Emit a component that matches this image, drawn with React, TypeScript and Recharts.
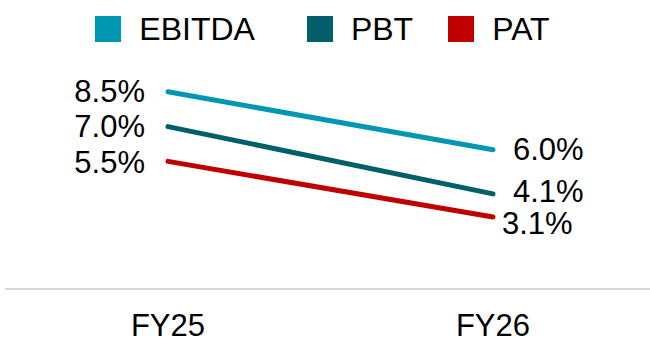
import { LineChart, Line, XAxis, YAxis, Legend, LabelList } from "recharts"

const categories = ["FY25", "FY26"]
const ebitda = [8.5, 6.0]
const pbt = [7.0, 4.1]
const pat = [5.5, 3.1]

const seriesNames = ["EBITDA", "PBT", "PAT"]
const colors = ["#0097B2", "#005F6B", "#C00000"]

const data = categories.map((c, i) => ({
  year: c,
  EBITDA: ebitda[i],
  PBT: pbt[i],
  PAT: pat[i]
}))

const FONT = "'Liberation Sans', Arial, sans-serif"

function makeLabel(key: string) {
  return (props: any) => {
    const { x, y, value, index } = props
    const left = index === 0
    let dx = left ? -23 : 20
    let dy = 0
    if (key === "PBT" && !left) dy = -2
    if (key === "PAT") dy = left ? 1 : 6
    if (key === "PAT" && !left) dx = 9
    return (
      <text
        x={x + dx}
        y={y + dy}
        textAnchor={left ? "end" : "start"}
        dominantBaseline="central"
        fontSize={31}
        fontFamily={FONT}
        fill="#000"
      >
        {value.toFixed(1)}%
      </text>
    )
  }
}

function LegendContent() {
  const gaps = [52, 35, 0]
  return (
    <div style={{ display: "flex", justifyContent: "center", height: 56, alignItems: "center", paddingRight: 10 }}>
      {seriesNames.map((n, i) => (
        <div key={n} style={{ display: "flex", alignItems: "center", marginRight: gaps[i] }}>
          <span style={{ width: 26, height: 26, background: colors[i], display: "inline-block", marginRight: 18 }} />
          <span style={{ fontSize: 32, fontFamily: FONT, color: "#000", lineHeight: 1 }}>{n}</span>
        </div>
      ))}
    </div>
  )
}

function Tick(props: any) {
  const { x, y, payload } = props
  return (
    <text x={x} y={y} dy={47} textAnchor="middle" fontSize={31} fontFamily={FONT} fill="#000">
      {payload.value}
    </text>
  )
}

export default function App() {
  return (
    <div style={{ position: "absolute", left: 0, top: 0, width: 650, height: 342, background: "#fff" }}>
      <LineChart width={650} height={342} data={data} margin={{ top: 1, right: 0, bottom: 0, left: 5 }}>
        <Legend verticalAlign="top" content={<LegendContent />} />
        <XAxis
          dataKey="year"
          tick={<Tick />}
          tickLine={false}
          tickSize={0}
          tickMargin={0}
          axisLine={{ stroke: "#d9d9d9", strokeWidth: 2 }}
          padding={{ left: 163, right: 157 }}
          height={53}
        />
        <YAxis hide domain={[0, 10]} />
        {seriesNames.map((n, i) => (
          <Line
            key={n}
            dataKey={n}
            stroke={colors[i]}
            strokeWidth={5}
            strokeLinecap="round"
            dot={false}
            isAnimationActive={false}
          >
            <LabelList dataKey={n} content={makeLabel(n)} />
          </Line>
        ))}
      </LineChart>
    </div>
  )
}
